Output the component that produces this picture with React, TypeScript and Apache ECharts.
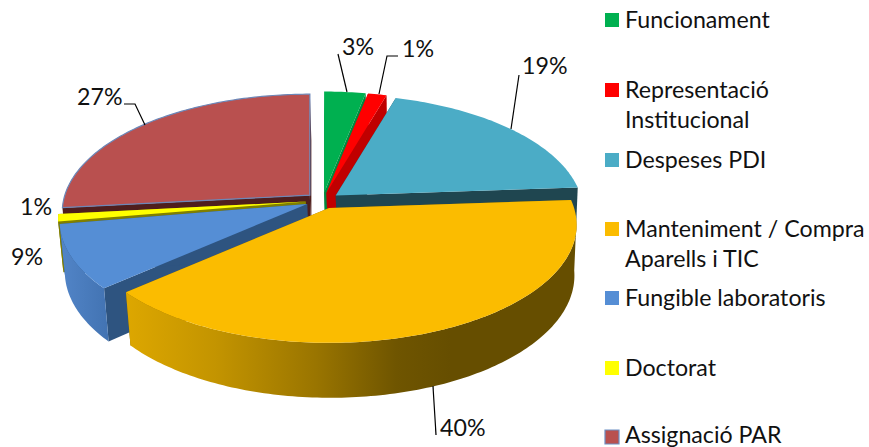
import React, { useEffect, useRef } from "react";
import * as echarts from "echarts";

const categories = [
  "Funcionament",
  "Representació\nInstitucional",
  "Despeses PDI",
  "Manteniment / Compra\nAparells i TIC",
  "Fungible laboratoris",
  "Doctorat",
  "Assignació PAR",
];
const percentValues = [3.1, 1.4, 19.4, 39.6, 8.8, 1.0, 26.7];
const topColors = ["#00b050", "#ff0000", "#4bacc6", "#fbbc00", "#558ed5", "#ffff00", "#b9504f"];
const faceColors = ["#008a3e", "#c00000", "#1f4650", "#7f6000", "#2e5480", "#807f00", "#4f1e1d"];

const FONT = "23.2px Lato, Carlito, sans-serif";
const INK = "#111111";

// Projection of the tilted disc
const BASE_X = 322.5;
const BASE_Y = 200.5;
const KX = 245;
const SY = 115.5;
const PERSP = 0.144;
const DEPTH = 50;
const EXPLODE_X = 17;
const EXPLODE_Y = 8;
const WALL_FROM = 96;
const WALL_TO = 264;
const paintOrder = [6, 0, 1, 2, 5, 4, 3];

const labelLayout = [
  { x: 342, y: 46, line: [[338, 54], [347, 92]] },
  { x: 402, y: 48, line: [[398, 56], [387, 56], [379, 94]] },
  { x: 522, y: 65, line: [[519, 75], [511, 129]] },
  { x: 440, y: 427, line: [[433, 386], [436, 435]] },
  { x: 11, y: 256, line: null },
  { x: 20, y: 206, line: null },
  { x: 77, y: 96, line: [[124, 104], [135, 104], [145, 125]] },
];
const legendRows = [20, 90, 160, 229, 298, 368, 437];
const LEGEND_TEXT_SHIFT = -1;
const LAST_ROW_TEXT_Y = 434;

const rad = (d: number) => (d * Math.PI) / 180;

function topPoint(ax: number, ay: number, deg: number) {
  const u = Math.sin(rad(deg));
  const v = Math.cos(rad(deg));
  const d = 1 + PERSP * v;
  return [ax + (KX * u) / d, ay - (SY * v) / d];
}
function bottomPoint(ax: number, ay: number, deg: number) {
  const u = Math.sin(rad(deg));
  const v = Math.cos(rad(deg));
  const d = 1 + PERSP * v;
  return [ax + 1.5 + (KX * 0.985 * u) / d, ay + DEPTH - (SY * 1.037 * v) / d];
}
function arc(fn: typeof topPoint, ax: number, ay: number, a: number, b: number) {
  const pts: number[][] = [];
  const n = Math.max(2, Math.ceil(Math.abs(b - a)));
  for (let i = 0; i <= n; i++) pts.push(fn(ax, ay, a + ((b - a) * i) / n));
  return pts;
}

function wallFill(index: number) {
  if (index === 3) {
    return new echarts.graphic.LinearGradient(0, 0, 1, 0, [
      { offset: 0, color: "#dda700" },
      { offset: 0.2, color: "#c39400" },
      { offset: 0.42, color: "#9a7500" },
      { offset: 0.6, color: "#6f5500" },
      { offset: 0.72, color: "#664e00" },
      { offset: 1, color: "#664e00" },
    ]);
  }
  if (index === 4) {
    return new echarts.graphic.LinearGradient(0, 0, 1, 0, [
      { offset: 0, color: "#5285c8" },
      { offset: 1, color: "#4273b2" },
    ]);
  }
  return faceColors[index];
}

function renderSlice(params: any, api: any) {
  const i = params.dataIndex;
  const total = percentValues.reduce((s, v) => s + v, 0);
  const before = percentValues.slice(0, i).reduce((s, v) => s + v, 0);
  const value = api.value(0);
  const a = (before / total) * 360;
  const b = ((before + value) / total) * 360;
  const mid = rad((a + b) / 2);
  const ax = BASE_X + EXPLODE_X * Math.sin(mid);
  const ay = BASE_Y - EXPLODE_Y * Math.cos(mid);
  const z = paintOrder.indexOf(i) * 10 + 1;
  const children: any[] = [];
  const apexTop = [ax, ay];
  const apexBottom = [ax + 1.5, ay + DEPTH];

  for (const deg of [a, b]) {
    children.push({
      type: "polygon",
      z2: z,
      shape: { points: [apexTop, topPoint(ax, ay, deg), bottomPoint(ax, ay, deg), apexBottom] },
      style: { fill: faceColors[i] },
    });
  }
  const wa = Math.max(a, WALL_FROM);
  const wb = Math.min(b, WALL_TO);
  if (wb > wa) {
    children.push({
      type: "polygon",
      z2: z + 1,
      shape: {
        points: [...arc(topPoint, ax, ay, wa, wb), ...arc(bottomPoint, ax, ay, wb, wa)],
      },
      style: { fill: wallFill(i) },
    });
  }
  children.push({
    type: "polygon",
    z2: z + 2,
    shape: { points: [apexTop, ...arc(topPoint, ax, ay, a, b)] },
    style:
      i === 6
        ? { fill: topColors[i], stroke: "#6c87b8", lineWidth: 1.2 }
        : { fill: topColors[i] },
  });

  const layout = labelLayout[i];
  if (layout.line) {
    children.push({
      type: "polyline",
      z2: 200,
      shape: { points: layout.line },
      style: { fill: "none", stroke: "#000000", lineWidth: 1.2 },
    });
  }
  children.push({
    type: "text",
    z2: 200,
    style: {
      text: `${Math.round(value)}%`,
      x: layout.x,
      y: layout.y,
      font: FONT,
      fill: INK,
      textAlign: "left",
      textVerticalAlign: "middle",
    },
  });
  return { type: "group", children };
}

function legendGraphics() {
  const out: any[] = [];
  categories.forEach((name, i) => {
    const y = legendRows[i];
    out.push({
      type: "rect",
      shape: { x: 605, y: y - 7, width: 14, height: 14 },
      style:
        i === 6
          ? { fill: topColors[i], stroke: "#6c8fc4", lineWidth: 1.2 }
          : { fill: topColors[i] },
    });
    name.split("\n").forEach((line, k) => {
      const textY = i === 6 ? LAST_ROW_TEXT_Y : y + LEGEND_TEXT_SHIFT + k * 30;
      out.push({
        type: "text",
        style: {
          text: line,
          x: 625,
          y: textY,
          font: FONT,
          fill: INK,
          textAlign: "left",
          textVerticalAlign: "middle",
        },
      });
    });
  });
  return out;
}

export default function App() {
  const ref = useRef<HTMLDivElement>(null);
  useEffect(() => {
    const chart = echarts.init(ref.current!, undefined, { renderer: "svg" });
    chart.setOption({
      animation: false,
      backgroundColor: "#ffffff",
      graphic: legendGraphics(),
      series: [
        {
          type: "custom",
          coordinateSystem: "none",
          silent: true,
          clip: false,
          renderItem: renderSlice,
          data: percentValues,
        },
      ],
    });
    return () => chart.dispose();
  }, []);
  return (
    <div
      ref={ref}
      style={{ position: "absolute", left: 0, top: 0, width: 869, height: 447 }}
    />
  );
}
